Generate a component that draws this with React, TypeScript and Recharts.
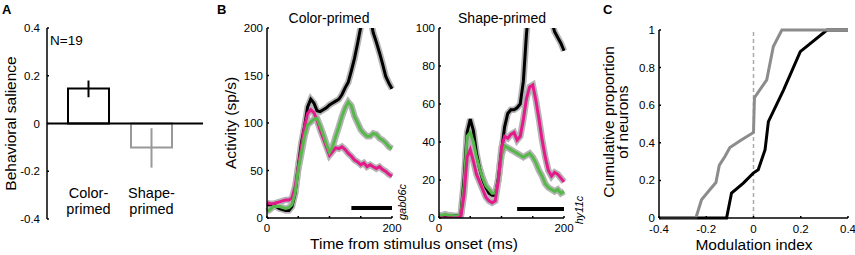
import React from 'react';
import {
  BarChart,
  Bar,
  Cell,
  ErrorBar,
  XAxis,
  YAxis,
  ReferenceLine,
  LineChart,
  Line,
} from 'recharts';

const FONT = '"Liberation Sans", Arial, Helvetica, sans-serif';

// ---------- Panel A : behavioral salience ----------
const primingCategories = ['Color-primed', 'Shape-primed'];
const salienceMean = [0.147, -0.1];
const salienceLow = [0.11, -0.185];
const salienceHigh = [0.18, -0.02];
const salienceTicks = [-0.4, -0.2, 0, 0.2, 0.4];

// ---------- Panel B : PSTHs ----------
const timeMs = [
  0, 5, 10, 15, 20, 25, 30, 35, 40, 45, 50, 55, 60, 65, 70, 75, 80, 85, 90, 95, 100,
  105, 110, 115, 120, 125, 130, 135, 140, 145, 150, 155, 160, 165, 170, 175, 180, 185,
  190, 195, 200,
];
const colorBlack = [
  14, 14, 14, 12, 10, 9, 8, 8, 12, 26, 54, 79, 96, 117, 125, 121, 113, 112, 114, 116, 119,
  121, 123, 125, 130, 137, 143, 155, 168, 184, 201, 218, 228, 212, 195, 185, 174, 162,
  149, 142, 136,
];
const colorMagenta = [
  16, 15, 15, 16, 17, 18, 19, 19, 21, 33, 54, 75, 96, 110, 114, 111, 103, 93, 84, 75, 66,
  70, 74, 73, 75, 72, 68, 65, 61, 59, 56, 58, 54, 56, 54, 52, 54, 51, 49, 46, 44,
];
const colorGreen = [
  7, 9, 12, 12, 12, 11, 10, 11, 14, 26, 51, 68, 86, 98, 101, 104, 105, 97, 88, 78, 69,
  75, 86, 96, 107, 116, 122, 118, 107, 100, 93, 89, 86, 86, 89, 88, 84, 82, 79, 75, 73,
];
const shapeBlack = [
  1, 1, 1, 1, 1, 1, 1, 2, 20, 45, 52, 46, 34, 26, 20, 16, 13, 12, 12, 21, 35, 48, 55, 57,
  57, 58, 60, 72, 97, 115, 125, 130, 131, 127, 120, 112, 104, 98, 95, 92, 88,
];
const shapeMagenta = [
  0, 0, 0, 0, 0, 0, 0, 1, 12, 32, 36, 30, 23, 19, 15, 11, 9, 8, 9, 20, 37, 43, 42, 44, 45,
  41, 43, 52, 63, 69, 70, 62, 52, 41, 32, 25, 22, 24, 23, 21, 19,
];
const shapeGreen = [
  1.5, 1.5, 2, 1.5, 1.5, 1, 1, 2, 17, 43, 45, 40, 32, 26, 21, 17, 15, 13, 13, 20, 33, 38,
  37, 36, 35, 34, 33, 32, 33, 34, 32, 29, 25, 22, 18, 16, 15, 14, 15, 13, 14,
];
const timeTicks = [0, 50, 100, 150, 200];
const colorActTicks = [0, 50, 100, 150, 200];
const shapeActTicks = [0, 20, 40, 60, 80, 100];
const colorWindow = [135, 200];
const colorWindowLevel = 10.5;
const shapeWindow = [125, 200];
const shapeWindowLevel = 4.8;

// ---------- Panel C : cumulative distributions ----------
const miColorX = [-0.4, -0.114, -0.093, -0.043, -0.001, 0.02, 0.049, 0.063, 0.127, 0.198, 0.311, 0.4];
const miColorY = [0, 0, 0.133, 0.186, 0.239, 0.257, 0.363, 0.513, 0.68, 0.885, 1, 1];
const miShapeX = [-0.4, -0.244, -0.22, -0.185, -0.159, -0.145, -0.121, -0.1, -0.05, 0, 0.004, 0.056, 0.084, 0.12, 0.4];
const miShapeY = [0, 0, 0.097, 0.15, 0.189, 0.28, 0.327, 0.375, 0.416, 0.455, 0.64, 0.735, 0.912, 1, 1];
const miTicks = [-0.4, -0.2, 0, 0.2, 0.4];
const propTicks = [0, 0.2, 0.4, 0.6, 0.8, 1];

// ---------- derived tables ----------
const barData = primingCategories.map((name, i) => ({
  name,
  value: salienceMean[i],
  errColor: i === 0 ? [salienceMean[i] - salienceLow[i], salienceHigh[i] - salienceMean[i]] : undefined,
  errShape: i === 1 ? [salienceMean[i] - salienceLow[i], salienceHigh[i] - salienceMean[i]] : undefined,
}));
const barStrokes = ['#000000', '#999999'];

const colorData = timeMs.map((t, i) => ({
  t,
  black: colorBlack[i],
  magenta: colorMagenta[i],
  green: colorGreen[i],
}));
const shapeData = timeMs.map((t, i) => ({
  t,
  black: shapeBlack[i],
  magenta: shapeMagenta[i],
  green: shapeGreen[i],
}));
const miColorData = miColorX.map((x, i) => ({ x, y: miColorY[i] }));
const miShapeData = miShapeX.map((x, i) => ({ x, y: miShapeY[i] }));

const W = 855;
const H = 255;
const YW = 30; // y-axis band width
const XH = 30; // x-axis band height
const tickStyle = { fontSize: 11.5, fill: '#000', fontFamily: FONT };
const axisLineStyle = { stroke: '#000', strokeWidth: 1.5 };
const fmtDec = (v: number) => (v === 0 ? '0' : v === 1 ? '1' : v.toFixed(1));
const fmtEnds = (v: number) => (v === 0 || v === 200 ? String(v) : '');

const BLACK = '#000000';
const MAGENTA = '#e5198b';
const GREEN = '#56b84a';
const HALO = '#b5b5b5';

const CategoryTick = (props: any) => {
  const { x, y, payload } = props;
  const parts = String(payload.value).split('-');
  return (
    <g>
      <text x={x} y={y - 21} textAnchor="middle" fontSize={14.5} fontFamily={FONT} fill="#000">
        {parts[0] + '-'}
      </text>
      <text x={x} y={y - 5} textAnchor="middle" fontSize={14.5} fontFamily={FONT} fill="#000">
        {parts[1]}
      </text>
    </g>
  );
};

const layer: React.CSSProperties = { position: 'absolute', left: 0, top: 0 };

function PanelA() {
  const axisX = 47;
  const axisY = 219;
  return (
    <div style={layer}>
      <BarChart
        width={W}
        height={H}
        data={barData}
        margin={{ top: 28, right: W - 203, bottom: H - axisY - XH, left: axisX - YW }}
        barSize={41}
      >
        <XAxis
          dataKey="name"
          type="category"
          height={XH}
          axisLine={false}
          tickLine={false}
          tickSize={0}
          tickMargin={0}
          interval={0}
          padding={{ left: 10, right: 20 }}
          tick={<CategoryTick />}
        />
        <YAxis
          width={YW}
          type="number"
          domain={[-0.4, 0.4]}
          ticks={salienceTicks}
          interval={0}
          tickFormatter={fmtDec}
          tickSize={-2}
          tickMargin={9}
          axisLine={axisLineStyle}
          tickLine={axisLineStyle}
          tick={tickStyle}
        />
        <Bar dataKey="value" fill="#ffffff" strokeWidth={2} isAnimationActive={false}>
          {barData.map((d, i) => (
            <Cell key={d.name} stroke={barStrokes[i]} fill="#ffffff" />
          ))}
          <ErrorBar dataKey="errColor" width={0} stroke={barStrokes[0]} strokeWidth={2} />
          <ErrorBar dataKey="errShape" width={0} stroke={barStrokes[1]} strokeWidth={2} />
        </Bar>
        <ReferenceLine y={0} stroke="#000" strokeWidth={2} />
      </BarChart>
    </div>
  );
}

function Psth(props: {
  data: any[];
  left: number;
  right: number;
  yMax: number;
  yTicks: number[];
  win: number[];
  winLevel: number;
  order: string[];
}) {
  const { data, left, right, yMax, yTicks, win, winLevel, order } = props;
  const colors: Record<string, string> = { black: BLACK, magenta: MAGENTA, green: GREEN };
  const axisY = 218;
  return (
    <div style={layer}>
      <LineChart
        width={W}
        height={H}
        data={data}
        margin={{ top: 28, right: W - right, bottom: H - axisY - XH, left: left - YW }}
      >
        <XAxis
          dataKey="t"
          type="number"
          domain={[0, 200]}
          ticks={timeTicks}
          interval={0}
          tickFormatter={fmtEnds}
          height={XH}
          tickSize={-2}
          tickMargin={8}
          axisLine={axisLineStyle}
          tickLine={axisLineStyle}
          tick={tickStyle}
        />
        <YAxis
          width={YW}
          type="number"
          domain={[0, yMax]}
          allowDataOverflow
          ticks={yTicks}
          interval={0}
          tickSize={-2}
          tickMargin={6}
          axisLine={axisLineStyle}
          tickLine={axisLineStyle}
          tick={tickStyle}
        />
        {order.map((k) => (
          <Line
            key={'halo-' + k}
            dataKey={k}
            type="linear"
            stroke={HALO}
            strokeWidth={6.5}
            dot={false}
            activeDot={false}
            isAnimationActive={false}
          />
        ))}
        {order.map((k) => (
          <Line
            key={'line-' + k}
            dataKey={k}
            type="linear"
            stroke={colors[k]}
            strokeWidth={3}
            dot={false}
            activeDot={false}
            isAnimationActive={false}
          />
        ))}
        <ReferenceLine
          segment={[
            { x: win[0], y: winLevel },
            { x: win[1], y: winLevel },
          ]}
          stroke="#000"
          strokeWidth={4}
        />
      </LineChart>
    </div>
  );
}

function PanelC() {
  const axisX = 659;
  const axisY = 218;
  return (
    <div style={layer}>
      <LineChart
        width={W}
        height={H}
        margin={{ top: 30, right: W - 848, bottom: H - axisY - XH, left: axisX - YW }}
      >
        <XAxis
          dataKey="x"
          type="number"
          domain={[-0.4, 0.4]}
          ticks={miTicks}
          interval={0}
          tickFormatter={fmtDec}
          height={XH}
          tickSize={-2}
          tickMargin={9}
          axisLine={axisLineStyle}
          tickLine={axisLineStyle}
          tick={tickStyle}
          allowDuplicatedCategory={false}
        />
        <YAxis
          width={YW}
          type="number"
          domain={[0, 1]}
          ticks={propTicks}
          interval={0}
          tickFormatter={fmtDec}
          tickSize={-2}
          tickMargin={6}
          axisLine={axisLineStyle}
          tickLine={axisLineStyle}
          tick={tickStyle}
        />
        <ReferenceLine x={0} stroke="#aaaaaa" strokeWidth={1.5} strokeDasharray="4 3" />
        <Line data={miColorData} dataKey="y" type="linear" stroke="#000" strokeWidth={3} dot={false} activeDot={false} isAnimationActive={false} />
        <Line data={miShapeData} dataKey="y" type="linear" stroke="#8c8c8c" strokeWidth={3} dot={false} activeDot={false} isAnimationActive={false} />
      </LineChart>
    </div>
  );
}

function Texts() {
  const t = { fontFamily: FONT, fill: '#000' } as const;
  return (
    <svg width={W} height={H} style={{ ...layer, pointerEvents: 'none' }}>
      <text x={2} y={13.5} fontSize={13} fontWeight="bold" {...t}>A</text>
      <text x={217} y={13.5} fontSize={13} fontWeight="bold" {...t}>B</text>
      <text x={603} y={14} fontSize={13} fontWeight="bold" {...t}>C</text>
      <text x={50} y={44.5} fontSize={13.5} {...t}>N=19</text>
      <text transform="translate(16,123.5) rotate(-90)" textAnchor="middle" fontSize={15.5} {...t}>
        Behavioral salience
      </text>
      <text transform="translate(235.5,123) rotate(-90)" textAnchor="middle" fontSize={15.5} {...t}>
        Activity (sp/s)
      </text>
      <text transform="translate(614,122) rotate(-90)" textAnchor="middle" fontSize={15.5} {...t}>
        Cumulative proportion
      </text>
      <text transform="translate(628,122) rotate(-90)" textAnchor="middle" fontSize={15.5} {...t}>
        of neurons
      </text>
      <text x={329} y={22.5} textAnchor="middle" fontSize={14} {...t}>Color-primed</text>
      <text x={502} y={22.5} textAnchor="middle" fontSize={14} {...t}>Shape-primed</text>
      <text x={414} y={248.5} textAnchor="middle" fontSize={15.5} {...t}>
        Time from stimulus onset (ms)
      </text>
      <text x={754} y={249.5} textAnchor="middle" fontSize={15.5} {...t}>Modulation index</text>
      <text transform="translate(406,202) rotate(-90)" textAnchor="middle" fontSize={11} fontStyle="italic" {...t}>
        gab06c
      </text>
      <text transform="translate(583,210) rotate(-90)" textAnchor="middle" fontSize={11} fontStyle="italic" {...t}>
        hy11c
      </text>
    </svg>
  );
}

export default function App() {
  return (
    <div style={{ position: 'absolute', left: 0, top: 0, width: W, height: H, background: '#fff', overflow: 'hidden' }}>
      <PanelA />
      <Psth data={colorData} left={267} right={392} yMax={200} yTicks={colorActTicks} win={colorWindow} winLevel={colorWindowLevel} order={['black', 'magenta', 'green']} />
      <Psth data={shapeData} left={439} right={564} yMax={100} yTicks={shapeActTicks} win={shapeWindow} winLevel={shapeWindowLevel} order={['black', 'green', 'magenta']} />
      <PanelC />
      <Texts />
    </div>
  );
}
